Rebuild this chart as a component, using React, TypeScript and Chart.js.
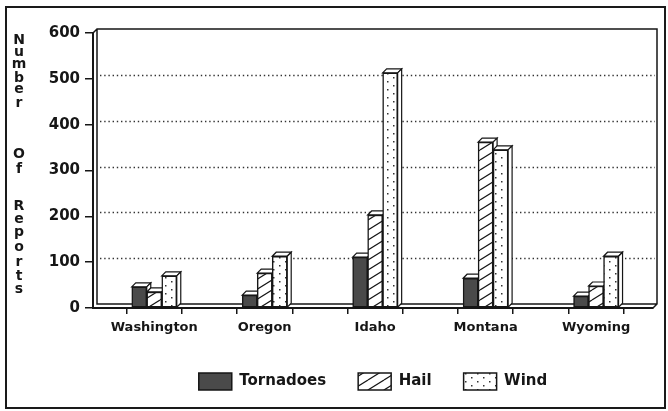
import React, { useEffect, useRef } from 'react';
import { Chart, registerables } from 'chart.js';

Chart.register(...registerables);

// ---- data ----
const states = ['Washington', 'Oregon', 'Idaho', 'Montana', 'Wyoming'];
const tornadoes = [46, 28, 111, 65, 26];
const hail = [35, 76, 203, 362, 48];
const wind = [70, 113, 513, 345, 113];
const yMin = 0;
const yMax = 600;
const yStep = 100;
const gridValues = [100, 200, 300, 400, 500];
const yTitleWords = ['Number', 'Of', 'Reports'];
const seriesNames = ['Tornadoes', 'Hail', 'Wind'];

const FONT = '"DejaVu Sans", "Liberation Sans", sans-serif';
const INK = '#161616';

function hatchPattern(ctx: CanvasRenderingContext2D) {
  const W = 16;
  const H = 10;
  const c = document.createElement('canvas');
  c.width = W;
  c.height = H;
  const g = c.getContext('2d')!;
  g.fillStyle = '#fff';
  g.fillRect(0, 0, W, H);
  g.strokeStyle = INK;
  g.lineWidth = 1.2;
  for (const k of [-1, 0, 1]) {
    g.beginPath();
    g.moveTo(0, H + H * k);
    g.lineTo(W, H * k);
    g.stroke();
  }
  return ctx.createPattern(c, 'repeat')!;
}

function dotPattern(ctx: CanvasRenderingContext2D) {
  const c = document.createElement('canvas');
  c.width = 12;
  c.height = 8;
  const g = c.getContext('2d')!;
  g.fillStyle = '#fff';
  g.fillRect(0, 0, 12, 8);
  g.fillStyle = '#333';
  g.fillRect(3, 1, 1.5, 1.5);
  g.fillRect(9, 5, 1.5, 1.5);
  return ctx.createPattern(c, 'repeat')!;
}

const D = 4; // 3D depth offset (pixels)

const depthPlugin = {
  id: 'depth3d',
  beforeDatasetsDraw(chart: any) {
    const { ctx, chartArea, scales } = chart;
    const { left, right, top, bottom } = chartArea;
    const y = scales.y;
    ctx.save();
    // dotted grid on back wall
    ctx.strokeStyle = '#333';
    ctx.lineWidth = 1.3;
    ctx.setLineDash([1.4, 2.8]);
    for (const v of gridValues) {
      const py = Math.round(y.getPixelForValue(v)) - D + 0.5;
      ctx.beginPath();
      ctx.moveTo(left + D + 3, py);
      ctx.lineTo(right + D - 2, py);
      ctx.stroke();
    }
    ctx.setLineDash([]);
    // back wall / floor outline
    ctx.strokeStyle = INK;
    ctx.lineWidth = 1.5;
    ctx.beginPath();
    ctx.moveTo(left, top);
    ctx.lineTo(left + D, top - D);
    ctx.lineTo(right + D, top - D);
    ctx.lineTo(right + D, bottom - D);
    ctx.lineTo(right, bottom);
    ctx.moveTo(left + D, top - D);
    ctx.lineTo(left + D, bottom - D);
    ctx.lineTo(right + D, bottom - D);
    ctx.stroke();
    // bar extrusions
    ctx.lineWidth = 1.2;
    chart.data.datasets.forEach((_: any, di: number) => {
      const meta = chart.getDatasetMeta(di);
      meta.data.forEach((el: any) => {
        const p = el.getProps(['x', 'y', 'base', 'width'], true);
        const l = p.x - p.width / 2;
        const r = p.x + p.width / 2;
        const t = p.y;
        const b = p.base;
        ctx.fillStyle = '#fff';
        ctx.beginPath();
        ctx.moveTo(l, t);
        ctx.lineTo(l + D, t - D);
        ctx.lineTo(r + D, t - D);
        ctx.lineTo(r, t);
        ctx.closePath();
        ctx.fill();
        ctx.stroke();
        ctx.beginPath();
        ctx.moveTo(r, t);
        ctx.lineTo(r + D, t - D);
        ctx.lineTo(r + D, b - D);
        ctx.lineTo(r, b);
        ctx.closePath();
        ctx.fill();
        ctx.stroke();
      });
    });
    ctx.restore();
  },
};

// vertical stacked y title (glyph centre positions)
const titleCenters = [
  [39, 51.6, 64.2, 76.8, 89.4, 102],
  [153, 167],
  [205, 219, 233, 247, 261, 275, 289],
];

const titlePlugin = {
  id: 'stackedTitle',
  afterDraw(chart: any) {
    const { ctx } = chart;
    ctx.save();
    ctx.font = `bold 14px ${FONT}`;
    ctx.fillStyle = INK;
    ctx.textAlign = 'center';
    ctx.textBaseline = 'alphabetic';
    yTitleWords.forEach((w, wi) => {
      [...w].forEach((ch, ci) => {
        const m = ctx.measureText(ch);
        const yc = titleCenters[wi][ci] + (m.actualBoundingBoxAscent - m.actualBoundingBoxDescent) / 2;
        ctx.fillText(ch, 19, yc);
      });
    });
    ctx.restore();
  },
};

export default function App() {
  const ref = useRef<HTMLCanvasElement>(null);

  useEffect(() => {
    const canvas = ref.current!;
    const ctx2 = canvas.getContext('2d')!;
    const fills = ['#4a4a4a', hatchPattern(ctx2), dotPattern(ctx2)];
    const series = [tornadoes, hail, wind];
    const tickValues: number[] = [];
    states.forEach((_, i) => {
      tickValues.push(i);
      if (i < states.length - 1) tickValues.push(i + 0.5);
    });

    const chart = new Chart(canvas, {
      type: 'bar',
      data: {
        datasets: series.map((s, i) => ({
          label: seriesNames[i],
          data: s.map((v, j) => ({ x: j, y: v })),
          backgroundColor: fills[i] as any,
          borderColor: INK,
          borderWidth: 1.5,
          borderSkipped: false,
          barThickness: 15,
        })),
      },
      options: {
        responsive: false,
        animation: false,
        devicePixelRatio: 1,
        layout: { padding: { top: 33, right: 15, bottom: 11, left: 0 } },
        plugins: {
          tooltip: { enabled: false },
          legend: {
            position: 'bottom',
            fullSize: false,
            labels: {
              boxWidth: 33,
              boxHeight: 17,
              padding: 32,
              color: INK,
              font: { family: FONT, weight: 'bold', size: 15 },
            },
          },
        },
        scales: {
          x: {
            type: 'linear',
            min: -0.273,
            max: 4.234,
            afterBuildTicks: (s: any) => {
              s.ticks = tickValues.map((v) => ({ value: v }));
            },
            afterFit: (s: any) => {
              s.height = 33;
            },
            grid: {
              display: true,
              drawOnChartArea: false,
              drawTicks: true,
              tickLength: 6,
              color: INK,
              lineWidth: 1.5,
            },
            border: { display: true, color: INK, width: 2 },
            ticks: {
              autoSkip: false,
              maxRotation: 0,
              padding: 6,
              color: INK,
              font: { family: FONT, weight: 'bold', size: 13 },
              callback: (v: any) => (Number.isInteger(v) ? states[v] : ''),
            },
          },
          y: {
            min: yMin,
            max: yMax,
            afterFit: (s: any) => {
              s.width = 93;
            },
            grid: {
              display: true,
              drawOnChartArea: false,
              drawTicks: true,
              tickLength: 8,
              color: INK,
              lineWidth: 1.5,
            },
            border: { display: true, color: INK, width: 2 },
            ticks: {
              stepSize: yStep,
              padding: 5,
              color: INK,
              font: { family: FONT, weight: 'bold', size: 15 },
            },
          },
        },
      } as any,
      plugins: [depthPlugin, titlePlugin],
    });
    return () => chart.destroy();
  }, []);

  return (
    <div
      style={{
        position: 'absolute',
        left: 0,
        top: 0,
        width: 668,
        height: 411,
        overflow: 'hidden',
        background: '#fff',
      }}
    >
      <canvas ref={ref} width={668} height={411} style={{ display: 'block', width: 668, height: 411 }} />
      <div
        style={{
          position: 'absolute',
          left: 5,
          top: 6,
          width: 661,
          height: 403,
          border: '2px solid #1a1a1a',
          boxSizing: 'border-box',
          pointerEvents: 'none',
        }}
      />
    </div>
  );
}
